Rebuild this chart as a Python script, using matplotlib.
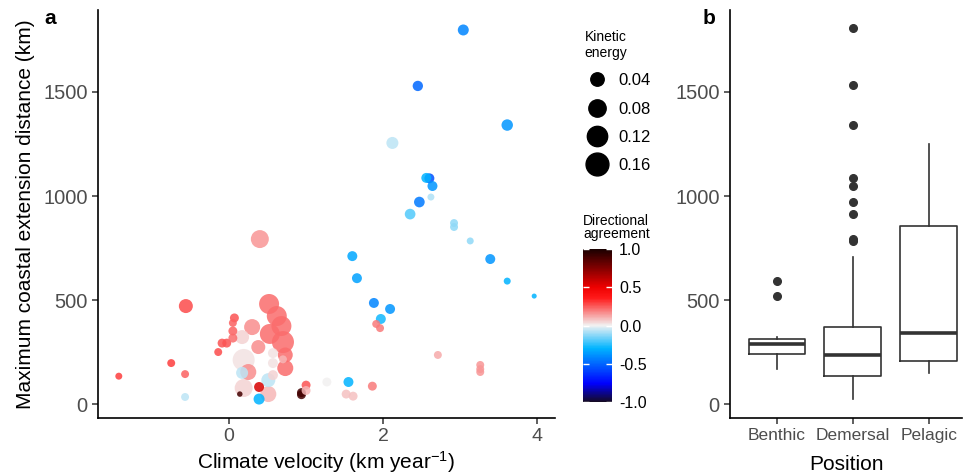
import numpy as np
import matplotlib
matplotlib.use('Agg')
import matplotlib.pyplot as plt
from matplotlib.colors import LinearSegmentedColormap, Normalize
from matplotlib.lines import Line2D

plt.rcParams['font.family'] = ['Liberation Sans', 'DejaVu Sans']
plt.rcParams['mathtext.default'] = 'regular'

# ---------------- data: panel a ----------------
velocity = [3.04, 2.45, 3.61, 2.12, 2.60, 2.56, 2.64, 2.62, 2.47, 2.35,
            2.92, 2.92, 3.13, 1.60, 3.39, 1.66, 3.61, 3.96, 1.88, 2.09,
            1.97, 1.91, 1.96, 2.71, 3.26, 3.26, 3.26, 1.27, 1.55, 1.86,
            1.52, 1.61,
            0.40, 0.52, 0.62, 0.68, 0.53, 0.70, 0.73, 0.73,
            0.19, 0.17, 0.30, 0.17, 0.38, 0.25, 0.19, 0.57, 0.57, 0.51, 0.57,
            0.51, 0.70,
            -1.43, -0.75, -0.57, -0.57, -0.56, -0.14, -0.09, -0.03, 0.07, 0.05,
            0.05, 0.05,
            0.39, 0.39, 0.14, 0.94, 0.94, 1.00, 1.00]
distance = [1798, 1529, 1341, 1255, 1085, 1087, 1048, 995, 971, 913,
            870, 851, 784, 711, 697, 605, 591, 519, 486, 457,
            409, 385, 365, 236, 188, 168, 154, 106, 106, 86,
            48, 38,
            793, 481, 423, 375, 337, 298, 236, 173,
            212, 150, 370, 322, 274, 154, 77, 245, 197, 115, 139,
            48, 215,
            134, 197, 144, 34, 471, 250, 293, 293, 414, 390,
            351, 317,
            82, 24, 48, 45, 55, 91, 65]
agreement = [-0.42, -0.50, -0.38, -0.07, -0.55, -0.30, -0.38, -0.08, -0.45, -0.20,
             -0.12, -0.12, -0.12, -0.33, -0.38, -0.35, -0.30, -0.30, -0.42, -0.38,
             -0.28, 0.20, 0.20, 0.12, 0.15, 0.15, 0.15, 0.00, -0.30, 0.20,
             0.08, 0.08,
             0.15, 0.22, 0.22, 0.22, 0.22, 0.22, 0.22, 0.22,
             0.03, -0.07, 0.17, 0.05, 0.17, 0.17, 0.05, 0.03, 0.03, -0.07, 0.05,
             0.10, 0.10,
             0.30, 0.30, 0.24, -0.07, 0.28, 0.28, 0.26, 0.26, 0.26, 0.24,
             0.24, 0.22,
             0.55, -0.30, 0.90, 0.90, 0.90, 0.26, 0.10]
kinetic = [0.022, 0.018, 0.025, 0.029, 0.016, 0.016, 0.016, 0.004, 0.020, 0.020,
           0.007, 0.007, 0.004, 0.016, 0.016, 0.016, 0.004, 0.0005, 0.016, 0.016,
           0.016, 0.007, 0.007, 0.007, 0.007, 0.007, 0.007, 0.011, 0.016, 0.011,
           0.011, 0.011,
           0.088, 0.115, 0.115, 0.115, 0.115, 0.146, 0.054, 0.065,
           0.146, 0.029, 0.065, 0.045, 0.045, 0.065, 0.088, 0.016, 0.016, 0.045, 0.016,
           0.065, 0.007,
           0.004, 0.007, 0.007, 0.007, 0.045, 0.007, 0.011, 0.011, 0.011, 0.007,
           0.011, 0.011,
           0.016, 0.022, 0.001, 0.011, 0.011, 0.011, 0.011]

legend_kinetic = [0.04, 0.08, 0.12, 0.16]
cbar_ticks = [-1.0, -0.5, 0.0, 0.5, 1.0]

# ---------------- data: panel b ----------------
positions = ['Benthic', 'Demersal', 'Pelagic']
box_q1 = [241, 135, 208]
box_median = [290, 237, 343]
box_q3 = [314, 368, 855]
whisker_low = [170, 24, 150]
whisker_high = [324, 706, 1251]
outliers_benthic = [590, 517]
outliers_demersal = [1807, 1532, 1343, 1087, 1047, 971, 913, 792, 782]
outliers_pelagic = []

# ---------------- styling helpers ----------------
def size_px(ke):
    return 4 + 20 * np.sqrt(np.asarray(ke) / 0.18)

cmap = LinearSegmentedColormap.from_list('dir', [
    (0.00, '#150a25'),
    (0.12, '#0000ff'),
    (0.35, '#00b4ff'),
    (0.50, '#f2f2f2'),
    (0.68, '#ff1a1a'),
    (0.75, '#ee0000'),
    (1.00, '#1a0000')])
norm = Normalize(-1, 1)

W, H = 963, 476
fig = plt.figure(figsize=(W / 100, H / 100), dpi=100)

def rect(x0, y0, x1, y1):
    return [x0 / W, 1 - y1 / H, (x1 - x0) / W, (y1 - y0) / H]

tick_grey = '#4d4d4d'

def style(ax):
    for s in ['top', 'right']:
        ax.spines[s].set_visible(False)
    for s in ['left', 'bottom']:
        ax.spines[s].set_linewidth(1.2)
        ax.spines[s].set_color('black')
    ax.tick_params(length=4, width=1.1, color='#333333', labelcolor=tick_grey)

# ---------------- panel a ----------------
ax = fig.add_axes(rect(98, 10, 555, 418))
style(ax)
v = np.array(velocity); d = np.array(distance)
a = np.array(agreement); k = np.array(kinetic)
order = np.argsort(-k, kind='stable')
sc = ax.scatter(v[order], d[order], s=(size_px(k[order]) * 0.72) ** 2,
                c=a[order], cmap=cmap, norm=norm, alpha=0.85,
                edgecolors='none')
ax.set_xlim(-1.70, 4.23)
ax.set_ylim(-67, 1894)
ax.set_xticks([0, 2, 4])
ax.set_yticks([0, 500, 1000, 1500])
ax.tick_params(axis='y', labelsize=14.5)
ax.tick_params(axis='x', labelsize=14)
ax.set_xlabel('Climate velocity (km year$^{-1}$)', fontsize=15, labelpad=3)
ax.set_ylabel('Maximum coastal extension distance (km)', fontsize=15, labelpad=6)

# size legend
handles = [Line2D([], [], marker='o', linestyle='', color='black',
                  markersize=size_px(kv) * 0.72) for kv in legend_kinetic]
leg = fig.legend(handles, [f'{kv:.2f}' for kv in legend_kinetic],
                 title='Kinetic\nenergy', loc='upper left',
                 bbox_to_anchor=(578 / W, 1 - 23 / H), frameon=False,
                 fontsize=12, title_fontsize=10, labelspacing=0.8,
                 handletextpad=0.5, borderaxespad=0, alignment='left',
                 handlelength=1.5)

# colorbar
cax = fig.add_axes(rect(583, 249, 612, 402))
cb = fig.colorbar(sc, cax=cax, ticks=cbar_ticks)
cb.solids.set_alpha(1)
cb.outline.set_visible(False)
cax.tick_params(axis='y', direction='in', color='white', length=4, width=1,
                left=True, right=True, labelleft=False, labelright=True,
                labelsize=11.5, labelcolor='black', pad=5)
cax.set_yticklabels([f'{t:.1f}' for t in cbar_ticks])
fig.text(583 / W, 1 - 241 / H, 'Directional\nagreement', fontsize=10,
         ha='left', va='bottom', linespacing=0.95)

# ---------------- panel b ----------------
axb = fig.add_axes(rect(730, 10, 962, 418))
style(axb)
outs = [outliers_benthic, outliers_demersal, outliers_pelagic]
stats = []
for i, p in enumerate(positions):
    stats.append(dict(label=p, q1=box_q1[i], med=box_median[i], q3=box_q3[i],
                      whislo=whisker_low[i], whishi=whisker_high[i],
                      fliers=outs[i]))
lc = '#333333'
axb.bxp(stats, positions=[1, 2, 3], widths=0.75, showcaps=False,
        boxprops=dict(color=lc, linewidth=1.2),
        whiskerprops=dict(color=lc, linewidth=1.2),
        medianprops=dict(color=lc, linewidth=2.6),
        flierprops=dict(marker='o', markerfacecolor=lc, markeredgecolor=lc,
                        markersize=5.5))
axb.set_xlim(0.38, 3.44)
axb.set_ylim(-67, 1894)
axb.set_yticks([0, 500, 1000, 1500])
axb.tick_params(axis='y', labelsize=14.5)
axb.tick_params(axis='x', labelsize=12.5)
axb.set_xlabel('Position', fontsize=15, labelpad=8)

fig.text(44 / W, 1 - 18 / H, 'a', fontsize=15, fontweight='bold', va='center')
fig.text(703 / W, 1 - 18 / H, 'b', fontsize=15, fontweight='bold', va='center')

fig.savefig('out.png', dpi=100)
